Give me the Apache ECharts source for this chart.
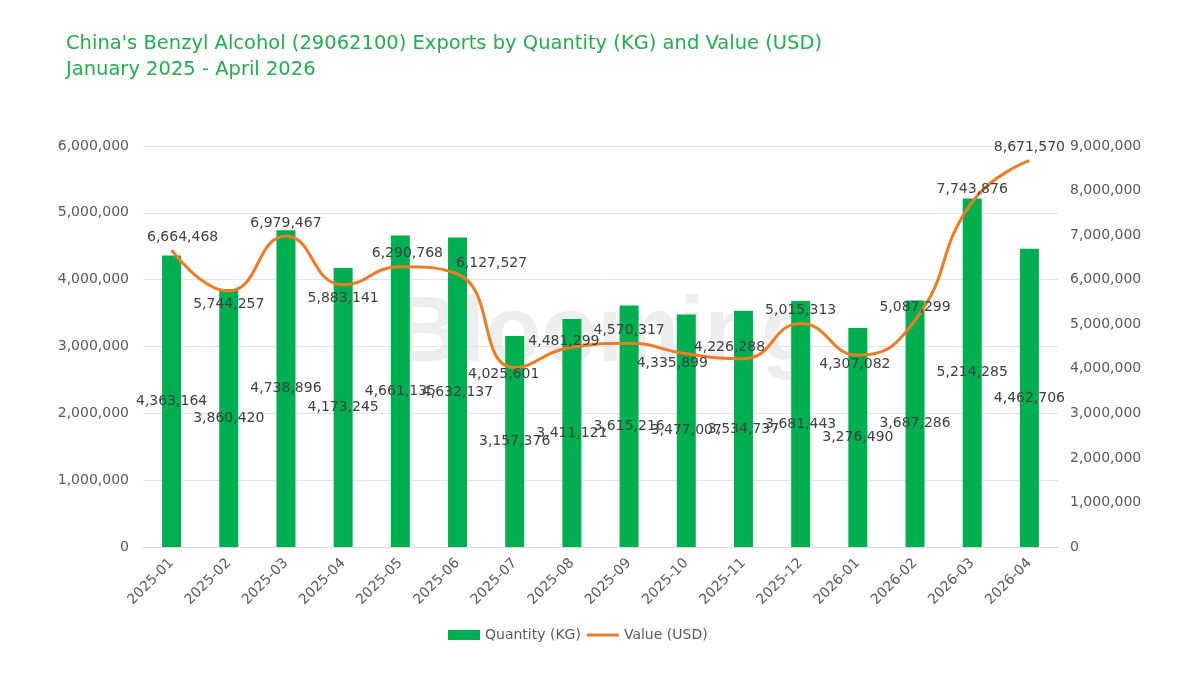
<!DOCTYPE html>
<html lang="en">
<head>
    <meta charset="UTF-8">
    <title>China's Benzyl Alcohol Exports</title>
    <script src="https://cdn.jsdelivr.net/npm/echarts@6/dist/echarts.min.js"></script>
    <style>
        html, body { margin: 0; padding: 0; background: #fff; }
        #chart { width: 1200px; height: 675px; }
    </style>
</head>
<body>
    <div id="chart"></div>
    <script>
        var months = ['2025-01', '2025-02', '2025-03', '2025-04', '2025-05', '2025-06', '2025-07', '2025-08',
            '2025-09', '2025-10', '2025-11', '2025-12', '2026-01', '2026-02', '2026-03', '2026-04'];
        var quantityKg = [4363164, 3860420, 4738896, 4173245, 4661135, 4632137, 3157376, 3411121,
            3615216, 3477007, 3534737, 3681443, 3276490, 3687286, 5214285, 4462706];
        var valueUsd = [6664468, 5744257, 6979467, 5883141, 6290768, 6127527, 4025601, 4481299,
            4570317, 4335899, 4226288, 5015313, 4307082, 5087299, 7743876, 8671570];
        // where each value label sits (like the excel auto placement)
        var valueLabelPos = ['top', 'bottom', 'top', 'bottom', 'top', 'top', 'bottom', 'inside',
            'top', 'bottom', 'top', 'top', 'bottom', 'top', 'top', 'top'];

        var fontName = '"DejaVu Sans", sans-serif';
        var fmt = function (v) { return Number(v).toLocaleString('en-US'); };

        // small nudges so labels land where excel put them
        function labelNudge(i) {
            if (i == 0) return [11, 0];
            if (i == 4) return [7, 0];
            if (i == 5) return [34, 2];
            if (i == 6) return [-11, -6];
            if (i == 7) return [-8, -6];
            if (i == 9) return [-14, -4];
            if (i == 10) return [-14, 2];
            if (i == 12) return [-3, -4];
            return [0, 0];
        }

        var lineData = valueUsd.map(function (v, i) {
            return { value: v, label: { position: valueLabelPos[i] } };
        });

        var chart = echarts.init(document.getElementById('chart'));
        var option = {
            backgroundColor: '#fff',
            textStyle: { fontFamily: fontName },
            title: {
                text: "China's Benzyl Alcohol (29062100) Exports by Quantity (KG) and Value (USD)\nJanuary 2025 - April 2026",
                left: 61,
                top: 26,
                textStyle: {
                    color: '#1fb04b',
                    fontSize: 19.5,
                    fontWeight: 'normal',
                    lineHeight: 26,
                    fontFamily: fontName
                }
            },
            graphic: [{
                type: 'text',
                left: 393,
                top: 290,
                z: -1,
                style: {
                    text: 'Blooming',
                    fill: 'rgba(195,195,195,0.28)',
                    font: 'bold 92px "Liberation Sans", sans-serif'
                }
            }],
            legend: {
                bottom: 28,
                left: 443,
                itemWidth: 32,
                itemHeight: 10,
                itemGap: 6,
                textStyle: { color: '#595959', fontSize: 14 },
                data: [
                    { name: 'Quantity (KG)', icon: 'rect' },
                    { name: 'Value (USD)', icon: 'path://M0,0H32V3H0Z' }
                ]
            },
            grid: {
                left: 143,
                right: 142,
                top: 146,
                bottom: 128
            },
            xAxis: {
                type: 'category',
                data: months,
                axisTick: { show: false },
                axisLine: { lineStyle: { color: '#d9d9d9', width: 1 } },
                axisLabel: {
                    rotate: 45,
                    color: '#595959',
                    fontSize: 14,
                    margin: 14
                }
            },
            yAxis: [{
                type: 'value',
                min: 0,
                max: 6000000,
                interval: 1000000,
                axisLine: { show: false },
                axisTick: { show: false },
                splitLine: { lineStyle: { color: '#e3e3e3', width: 1 } },
                axisLabel: { color: '#595959', fontSize: 14, margin: 14, formatter: fmt }
            }, {
                type: 'value',
                min: 0,
                max: 9000000,
                interval: 1000000,
                axisLine: { show: false },
                axisTick: { show: false },
                splitLine: { show: false },
                axisLabel: { color: '#595959', fontSize: 14, margin: 12, formatter: fmt }
            }],
            series: [{
                name: 'Quantity (KG)',
                type: 'bar',
                data: quantityKg,
                barWidth: 19,
                itemStyle: { color: '#00b050' },
                label: {
                    show: true,
                    position: 'inside',
                    color: '#404040',
                    fontSize: 14,
                    formatter: function (p) { return fmt(p.value); }
                }
            }, {
                name: 'Value (USD)',
                type: 'line',
                yAxisIndex: 1,
                data: lineData,
                smooth: 0.5,
                showSymbol: true,
                symbol: 'circle',
                symbolSize: 0.1,
                lineStyle: { color: '#f27a21', width: 3 },
                itemStyle: { color: '#f27a21' },
                label: {
                    show: true,
                    color: '#404040',
                    fontSize: 14,
                    distance: 6,
                    formatter: function (p) { return fmt(p.value); }
                },
                labelLayout: function (params) {
                    var n = labelNudge(params.dataIndex);
                    return { dx: n[0], dy: n[1] };
                },
                z: 3
            }]
        };
        chart.setOption(option);
    </script>
</body>
</html>
